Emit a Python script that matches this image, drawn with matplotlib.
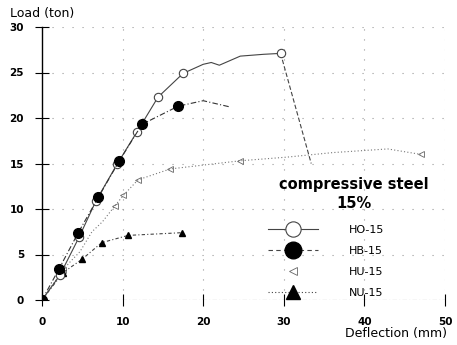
import matplotlib
matplotlib.use("Agg")
import matplotlib.pyplot as plt
from matplotlib.lines import Line2D

# Data (deflection mm, load ton)
ho_x = [0, 2.2, 4.6, 6.7, 9.3, 11.8, 14.4, 17.5, 20.0, 21.0, 22.0, 24.6, 27.5, 29.6, 33.4]
ho_y = [0, 2.7, 6.9, 10.9, 14.9, 18.5, 22.3, 24.9, 25.9, 26.1, 25.8, 26.8, 27.0, 27.1, 15.0]
ho_mk = [0, 1, 2, 3, 4, 5, 6, 7, 13]

hb_x = [0, 2.1, 4.5, 7.0, 9.6, 12.4, 16.9, 20.0, 23.4]
hb_y = [0, 3.4, 7.4, 11.3, 15.3, 19.3, 21.3, 21.9, 21.2]
hb_mk = [0, 1, 2, 3, 4, 5, 6]

hu_x = [0, 2.6, 3.5, 4.7, 6.2, 7.5, 9.0, 10.1, 11.9, 15.9, 24.6, 30.4, 36.1, 42.9, 47.0]
hu_y = [0, 3.3, 4.2, 5.3, 7.5, 8.6, 10.3, 11.5, 13.2, 14.4, 15.3, 15.7, 16.2, 16.6, 16.0]
hu_mk = [1, 6, 7, 8, 9, 10, 14]

nu_x = [0, 2.6, 5.0, 7.4, 10.7, 17.4]
nu_y = [0, 3.0, 4.5, 6.3, 7.1, 7.4]

x_ticks = [0, 10, 20, 30, 40, 50]
y_ticks = [0, 5, 10, 15, 20, 25, 30]
labels = ["HO-15", "HB-15", "HU-15", "NU-15"]
legend_title = "compressive steel\n15%"

plt.rcParams['font.family'] = ['DejaVu Sans']
fig = plt.figure(figsize=(4.57, 3.45), dpi=100)
ax = fig.add_axes([42/457, 1-300/345, (445-42)/457, (300-27)/345])

ax.set_xlim(0, 50)
ax.set_ylim(0, 30)

for xv in x_ticks[1:]:
    ax.axvline(xv, color='#999999', lw=0.8, ls=(0, (1, 8)), zorder=0)
for yv in y_ticks[1:]:
    ax.axhline(yv, color='#999999', lw=0.8, ls=(0, (1, 8)), zorder=0)
ax.axhline(0, color='#666666', lw=0.8, ls=(0, (4, 2, 1, 2)), zorder=0)

# HO main curve (solid) and post-peak drop (dashed)
ax.plot(ho_x[:14], ho_y[:14], color='#444444', lw=0.8, ls='-', zorder=3)
ax.plot(ho_x[13:], ho_y[13:], color='#444444', lw=0.8, ls=(0, (4, 2)), zorder=3)
ax.plot([ho_x[i] for i in ho_mk], [ho_y[i] for i in ho_mk], ls='none', marker='o',
        mfc='white', mec='#444444', ms=6, mew=0.8, zorder=4)
ax.plot(hb_x, hb_y, color='#333333', lw=0.8, ls=(0, (5, 2, 1, 2)), marker='o', markevery=hb_mk,
        mfc='black', mec='black', ms=7, zorder=5)
ax.plot(hu_x, hu_y, color='#777777', lw=0.8, ls=(0, (1, 2)), marker='<', markevery=hu_mk,
        mfc='none', mec='#666666', ms=5, mew=0.6)
ax.plot(nu_x, nu_y, color='#444444', lw=0.8, ls=(0, (3, 2, 1, 2)), marker='^',
        mfc='black', mec='black', ms=5)

for s in ['top', 'right', 'bottom']:
    ax.spines[s].set_visible(False)
ax.spines['left'].set_linewidth(1.0)
ax.set_xticks(x_ticks)
ax.set_yticks(y_ticks)
ax.tick_params(axis='y', direction='inout', length=10, width=0.8, labelsize=7.5, pad=8)
ax.tick_params(axis='x', direction='inout', length=8, width=0.8, labelsize=7.5, pad=8)
for t in ax.get_xticklabels() + ax.get_yticklabels():
    t.set_fontweight('bold')

fig.text(10/457, 1-14/345, "Load (ton)", fontsize=9, va='center', ha='left')
fig.text(447/457, 1-333/345, "Deflection (mm)", fontsize=9, va='center', ha='right')

fig.text(354/457, 1-194/345, legend_title, fontsize=10.5, fontweight='bold',
         ha='center', va='center', multialignment='center', linespacing=1.25)

handles = [
    Line2D([], [], color='#444444', lw=0.8, ls='-', marker='o', mfc='white', mec='#444444', ms=11, mew=0.8),
    Line2D([], [], color='#444444', lw=0.8, ls=(0, (4, 3)), marker='o', mfc='black', mec='black', ms=12),
    Line2D([], [], color='none', marker='<', mfc='none', mec='#666666', ms=6, mew=0.6),
    Line2D([], [], color='#444444', lw=0.8, ls=(0, (1, 2)), marker='^', mfc='black', mec='black', ms=10),
]
leg = ax.legend(handles, labels, loc='upper left',
                bbox_to_anchor=(258/457, 1-215/345), bbox_transform=fig.transFigure,
                frameon=False, handlelength=4.5, handletextpad=2.8, labelspacing=1.0,
                fontsize=8)

fig.savefig("out.png", dpi=100)
